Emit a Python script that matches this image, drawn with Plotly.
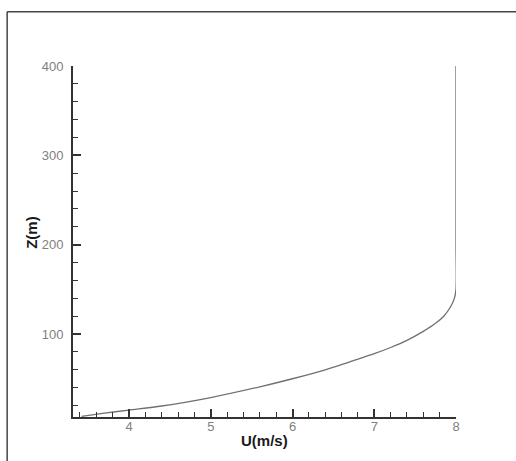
import plotly.graph_objects as go

# Wind profile
U = [3.42, 3.7, 4.0, 4.4, 5.0, 5.6, 6.0, 6.4, 6.7, 7.0, 7.2, 7.4, 7.6, 7.75, 7.85, 7.93, 7.98, 8.0, 8.0, 8.0, 8.0]
Z = [8, 11.5, 15, 19.5, 29, 41, 50, 60, 69, 78, 85, 93, 103, 112, 120, 130, 140, 150, 200, 300, 400]

x_ticks = [4, 5, 6, 7, 8]
y_ticks = [100, 200, 300, 400]

fig = go.Figure()
fig.add_trace(go.Scatter(x=U, y=Z, mode="lines",
                         line=dict(color="#707070", width=1.3, shape="spline", smoothing=0.8),
                         showlegend=False, hoverinfo="skip"))

tickfont = dict(family="Liberation Sans, Arial, sans-serif", size=13, color="#808080")
axis_common = dict(showgrid=False, zeroline=False, showline=True, linecolor="#333333",
                   linewidth=2, ticks="inside", tickcolor="#333333", tickwidth=2,
                   ticklen=8, mirror=False, tickfont=tickfont)

fig.update_xaxes(range=[3.315, 8.0], tickvals=x_ticks, ticktext=[str(v) for v in x_ticks],
                 ticklabelstandoff=-4,
                 minor=dict(dtick=0.2, tick0=0, ticks="inside", ticklen=5, tickwidth=1, tickcolor="#333333"),
                 **axis_common)
fig.update_yaxes(range=[7.2, 400], tickvals=y_ticks, ticktext=[str(v) for v in y_ticks],
                 ticklabelstandoff=5,
                 minor=dict(dtick=20, tick0=0, ticks="inside", ticklen=5, tickwidth=1, tickcolor="#333333"),
                 **axis_common)

title_font = dict(family="Liberation Sans, Arial, sans-serif", size=15, color="#1a1a1a")
fig.add_annotation(text="<b>U(m/s)</b>", xref="paper", yref="paper",
                   x=(265 - 73.3) / 382.7, y=(417 - 441) / 351.3,
                   showarrow=False, font=title_font, xanchor="center", yanchor="middle")
fig.add_annotation(text="<b>Z(m)</b>", xref="paper", yref="paper",
                   x=(31 - 73.3) / 382.7, y=(417 - 232) / 351.3, textangle=-90,
                   showarrow=False, font=title_font, xanchor="center", yanchor="middle")

# outer frame (left and top edges visible)
fx = (7.5 - 73.3) / 382.7
fy = (417 - 11.5) / 351.3
fig.add_shape(type="line", xref="paper", yref="paper", x0=fx, x1=fx, y0=-0.5, y1=fy,
              line=dict(color="#444444", width=1.5))
fig.add_shape(type="line", xref="paper", yref="paper", x0=fx, x1=1.5, y0=fy, y1=fy,
              line=dict(color="#444444", width=1.5))

fig.update_layout(width=516, height=461, margin=dict(l=73, r=60, t=66, b=44),
                  plot_bgcolor="white", paper_bgcolor="white")

fig.write_html("out.html")
